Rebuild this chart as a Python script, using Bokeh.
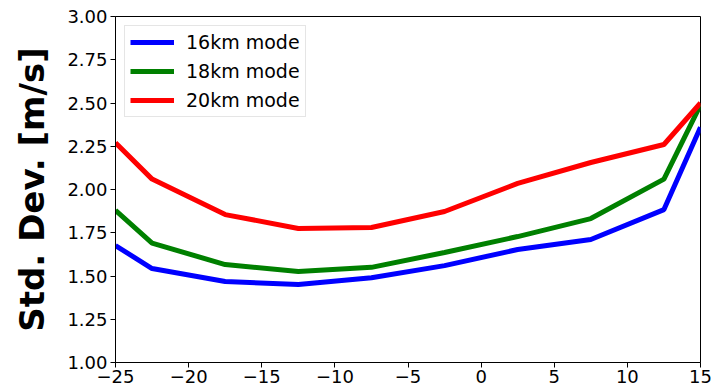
from bokeh.plotting import figure
from bokeh.models import FixedTicker, Legend, LegendItem, Range1d
from bokeh.embed import file_html
from bokeh.resources import INLINE

# Sample positions (range bins) and standard deviations for each mode
x_vals = [-25, -22.5, -17.5, -12.5, -7.5, -2.5, 2.5, 7.5, 12.5, 15]
std_16km = [1.676, 1.543, 1.468, 1.451, 1.490, 1.560, 1.653, 1.711, 1.884, 2.36]
std_18km = [1.880, 1.690, 1.566, 1.526, 1.550, 1.636, 1.728, 1.832, 2.060, 2.49]
std_20km = [2.270, 2.060, 1.855, 1.775, 1.780, 1.873, 2.035, 2.156, 2.260, 2.50]

series_names = ["16km mode", "18km mode", "20km mode"]
series_colors = ["#0000ff", "#008000", "#ff0000"]

x_ticks = [-25, -20, -15, -10, -5, 0, 5, 10, 15]
y_ticks = [1.00, 1.25, 1.50, 1.75, 2.00, 2.25, 2.50, 2.75, 3.00]

FONT = "DejaVu Sans"

p = figure(
    width=712, height=389,
    output_backend="svg", toolbar_location=None,
    x_range=Range1d(-25, 15), y_range=Range1d(1.0, 3.0),
    min_border_left=115, min_border_right=12,
    min_border_top=16, min_border_bottom=27,
)
p.background_fill_color = "white"
p.border_fill_color = "white"
p.outline_line_color = "black"
p.outline_line_width = 1
p.grid.visible = False

# Axes styled like classic scientific plots
for ax in (p.xaxis[0], p.yaxis[0]):
    ax.axis_line_color = "black"
    ax.major_tick_line_color = "black"
    ax.major_tick_out = 5
    ax.major_tick_in = 0
    ax.minor_tick_line_color = None
    ax.major_label_text_font = FONT
    ax.major_label_text_font_size = "18px"
    ax.major_label_text_color = "black"

p.xaxis.ticker = FixedTicker(ticks=x_ticks)
p.xaxis.major_label_overrides = {t: (f"\u2212{abs(t)}" if t < 0 else str(t)) for t in x_ticks}
p.xaxis.major_label_standoff = 2

p.yaxis.ticker = FixedTicker(ticks=y_ticks)
p.yaxis.major_label_overrides = {t: f"{t:.2f}" for t in y_ticks}
p.yaxis.major_label_standoff = 3

p.yaxis.axis_label = "Std. Dev. [m/s]"
p.yaxis.axis_label_text_font = FONT
p.yaxis.axis_label_text_font_style = "bold"
p.yaxis.axis_label_text_font_size = "34px"
p.yaxis.axis_label_text_color = "black"
p.yaxis.axis_label_standoff = 12

items = []
for name, color, vals in zip(series_names, series_colors, [std_16km, std_18km, std_20km]):
    r = p.line(x_vals, vals, line_color=color, line_width=5)
    items.append(LegendItem(label=name, renderers=[r]))

legend = Legend(
    items=items, location="top_left",
    margin=9,
    label_text_font=FONT, label_text_font_size="19px", label_text_color="black",
    glyph_width=44, glyph_height=22, label_standoff=12,
    spacing=7, padding=5,
    border_line_color="#cccccc", border_line_width=1,
    background_fill_color="white", background_fill_alpha=0.8,
)
p.add_layout(legend)

open("out.html", "w").write(file_html(p, INLINE))
